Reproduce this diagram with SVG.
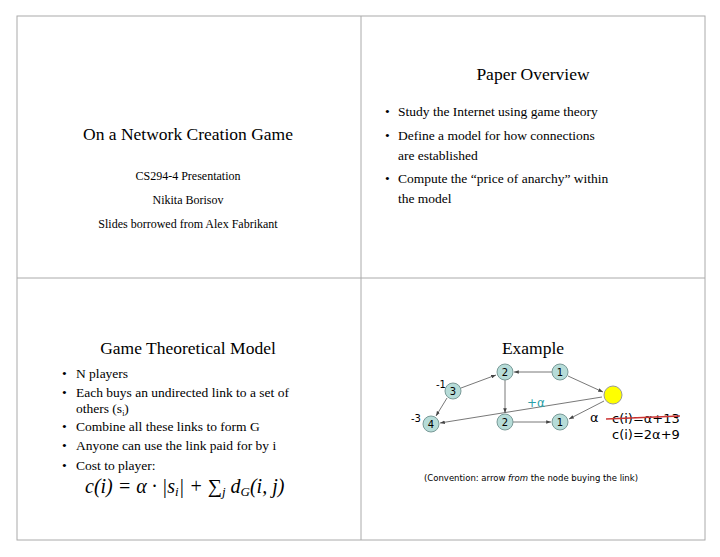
<svg xmlns="http://www.w3.org/2000/svg" width="720" height="557" viewBox="0 0 720 557">
<defs>
<style>
.t{font-family:"Liberation Serif",serif;fill:#000}
.s{font-family:"DejaVu Sans",sans-serif;fill:#000}
.n{fill:#b6dcd8;stroke:#7a9a98;stroke-width:1}
.e{stroke:#555;stroke-width:0.8;fill:none;marker-end:url(#a)}
</style>
<marker id="a" viewBox="0 0 8 6" refX="8" refY="3" markerWidth="6" markerHeight="5" orient="auto"><path d="M0,0L8,3L0,6z" fill="#444"/></marker>
</defs>
<rect width="720" height="557" fill="#fff"/>
<g stroke="#aaa" stroke-width="1" fill="none">
<rect x="17" y="16" width="688" height="524"/>
<line x1="361" y1="16" x2="361" y2="540"/>
<line x1="17" y1="278" x2="705" y2="278"/>
</g>
<g id="slide1">
<text class="t" x="188" y="140" font-size="17.5" text-anchor="middle">On a Network Creation Game</text>
<text class="t" x="188" y="180" font-size="12" text-anchor="middle">CS294-4 Presentation</text>
<text class="t" x="188" y="204" font-size="12" text-anchor="middle">Nikita Borisov</text>
<text class="t" x="188" y="228" font-size="12" text-anchor="middle">Slides borrowed from Alex Fabrikant</text>
</g>
<g id="slide2" class="t" font-size="13.5">
<text x="533" y="80" font-size="17.5" text-anchor="middle">Paper Overview</text>
<text x="385" y="116">•</text><text x="398" y="116">Study the Internet using game theory</text>
<text x="385" y="140">•</text><text x="398" y="140">Define a model for how connections</text>
<text x="398" y="160">are established</text>
<text x="385" y="183">•</text><text x="398" y="183">Compute the “price of anarchy” within</text>
<text x="398" y="203">the model</text>
</g>
<g id="slide3" class="t" font-size="13.5">
<text x="188" y="354" font-size="17.5" text-anchor="middle">Game Theoretical Model</text>
<text x="62" y="378">•</text><text x="76" y="378">N players</text>
<text x="62" y="397">•</text><text x="76" y="397">Each buys an undirected link to a set of</text>
<text x="76" y="413">others (s<tspan font-size="8" dy="3">i</tspan><tspan dy="-3">)</tspan></text>
<text x="62" y="431">•</text><text x="76" y="431">Combine all these links to form G</text>
<text x="62" y="450">•</text><text x="76" y="450">Anyone can use the link paid for by i</text>
<text x="62" y="470">•</text><text x="76" y="470">Cost to player:</text>
<text x="85" y="493" font-size="20" font-style="italic">c(i) = α · |s<tspan font-size="13" dy="3">i</tspan><tspan dy="-3">| + ∑</tspan><tspan font-size="13" dy="3">j</tspan><tspan dy="-3"> d</tspan><tspan font-size="13" dy="3">G</tspan><tspan dy="-3">(i, j)</tspan></text>
</g>
<g id="slide4">
<text class="t" x="533" y="354" font-size="17.5" text-anchor="middle">Example</text>
<g id="edges">
<line class="e" x1="552" y1="372" x2="514" y2="372"/>
<line class="e" x1="461" y1="388" x2="496" y2="375"/>
<line class="e" x1="568" y1="376" x2="603" y2="392"/>
<line class="e" x1="505" y1="380" x2="505" y2="413"/>
<line class="e" x1="513" y1="422" x2="551" y2="422"/>
<line class="e" x1="447" y1="398" x2="436" y2="416"/>
<line class="e" x1="602" y1="397" x2="440" y2="423"/>
<line class="e" x1="604" y1="401" x2="569" y2="419"/>
</g>
<g id="n2a"><circle class="n" cx="505" cy="372" r="8"/><text class="s" x="505" y="376" font-size="10" text-anchor="middle">2</text></g>
<g id="n1a"><circle class="n" cx="560" cy="372" r="8"/><text class="s" x="560" y="376" font-size="10" text-anchor="middle">1</text></g>
<g id="n3"><circle class="n" cx="453" cy="391" r="8"/><text class="s" x="453" y="395" font-size="10" text-anchor="middle">3</text></g>
<g id="n4"><circle class="n" cx="431" cy="424" r="8"/><text class="s" x="431" y="428" font-size="10" text-anchor="middle">4</text></g>
<g id="n2b"><circle class="n" cx="505" cy="422" r="8"/><text class="s" x="505" y="426" font-size="10" text-anchor="middle">2</text></g>
<g id="n1b"><circle class="n" cx="560" cy="422" r="8"/><text class="s" x="560" y="426" font-size="10" text-anchor="middle">1</text></g>
<g id="ny"><circle cx="613" cy="395" r="9" fill="#ffff00" stroke="#999" stroke-width="1"/></g>
<text class="s" x="436" y="388" font-size="10">-1</text>
<text class="s" x="411" y="422" font-size="10">-3</text>
<text class="s" x="527" y="407" font-size="12" style="fill:#2aa0a8">+α</text>
<text class="s" x="590" y="422" font-size="13">α</text>
<text class="s" x="612" y="423" font-size="13">c(i)=α+13</text>
<line x1="606" y1="419" x2="680" y2="416" stroke="#c33" stroke-width="1.3"/>
<text class="s" x="612" y="439" font-size="13">c(i)=2α+9</text>
<text class="s" x="531" y="481" font-size="8.5" text-anchor="middle">(Convention: arrow <tspan font-style="italic">from</tspan> the node buying the link)</text>
</g>
</svg>
